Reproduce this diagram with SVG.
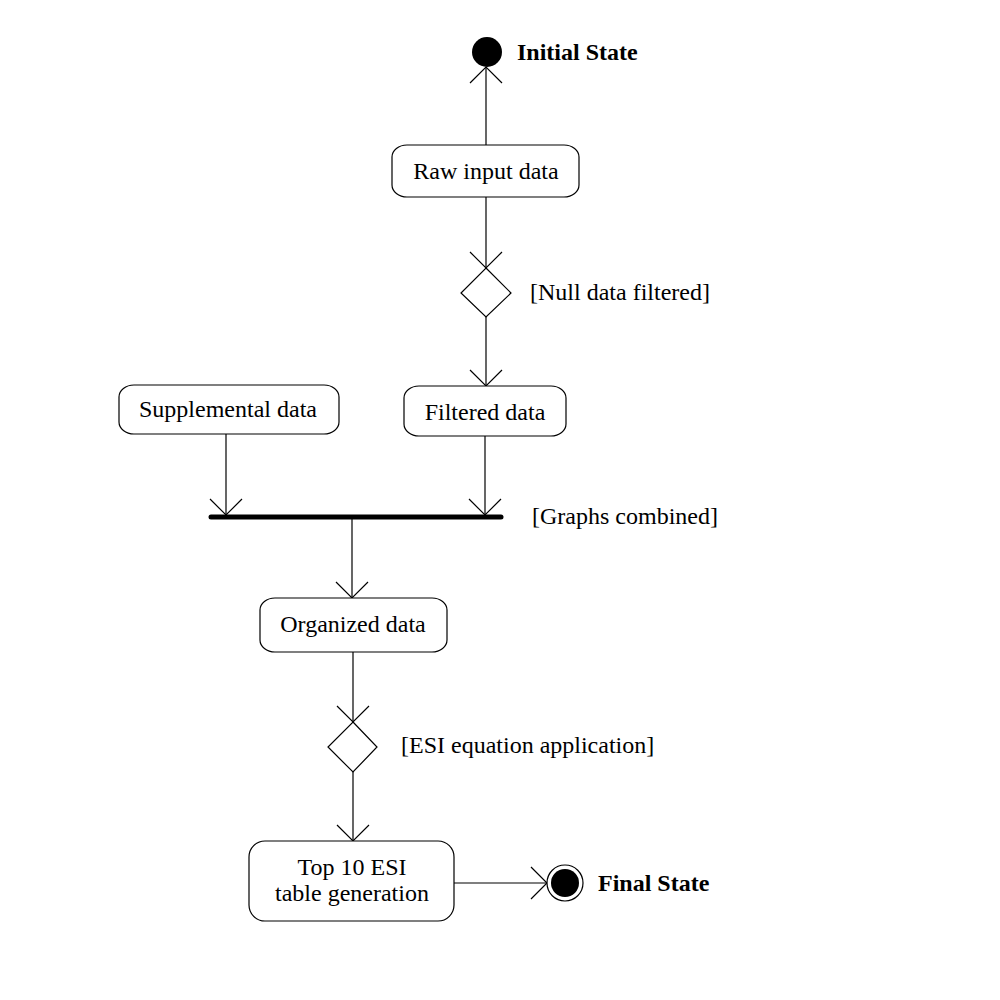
<svg xmlns="http://www.w3.org/2000/svg" width="1000" height="1000" viewBox="0 0 1000 1000">
<style>
.box{fill:#fff;stroke:#000;stroke-width:1.2}
.t{font-family:"Liberation Serif","Times New Roman",serif;font-size:24px;fill:#000}
.b{font-weight:bold}
.ln{stroke:#000;stroke-width:1.2;fill:none}
</style>
<defs>
<marker id="arr" markerWidth="40" markerHeight="40" refX="20" refY="20" orient="auto" markerUnits="userSpaceOnUse" viewBox="0 0 40 40">
<path d="M4,4 L20,20 L4,36" fill="none" stroke="#000" stroke-width="1.2"/>
</marker>
</defs>
<rect width="1000" height="1000" fill="#fff"/>
<g id="connectors">
<line class="ln" x1="486" y1="145" x2="486" y2="67" marker-end="url(#arr)"/>
<line class="ln" x1="486" y1="197" x2="486" y2="268" marker-end="url(#arr)"/>
<line class="ln" x1="486" y1="317" x2="486" y2="386" marker-end="url(#arr)"/>
<line class="ln" x1="226" y1="434" x2="226" y2="515" marker-end="url(#arr)"/>
<line class="ln" x1="485" y1="436" x2="485" y2="515" marker-end="url(#arr)"/>
<line class="ln" x1="352" y1="517" x2="352" y2="598" marker-end="url(#arr)"/>
<line class="ln" x1="353" y1="652" x2="353" y2="722" marker-end="url(#arr)"/>
<line class="ln" x1="353" y1="772" x2="353" y2="841" marker-end="url(#arr)"/>
<line class="ln" x1="454" y1="883" x2="547" y2="883" marker-end="url(#arr)"/>
</g>
<g id="initial">
<circle cx="487" cy="52" r="15" fill="#000"/>
<text class="t b" x="517" y="60">Initial State</text>
</g>
<g id="raw">
<rect class="box" x="392" y="145" width="187" height="52" rx="15" ry="12"/>
<text class="t" x="486" y="179" text-anchor="middle">Raw input data</text>
</g>
<g id="decision1">
<polygon class="box" points="486,268 511,293 486,317 461,293"/>
<text class="t" x="530" y="300">[Null data filtered]</text>
</g>
<g id="filtered">
<rect class="box" x="404" y="386" width="162" height="50" rx="15" ry="12"/>
<text class="t" x="485" y="420" text-anchor="middle">Filtered data</text>
</g>
<g id="supplemental">
<rect class="box" x="119" y="385" width="220" height="49" rx="15" ry="12"/>
<text class="t" x="228" y="417" text-anchor="middle">Supplemental data</text>
</g>
<g id="join">
<line x1="211" y1="517" x2="501" y2="517" stroke="#000" stroke-width="5" stroke-linecap="round"/>
<text class="t" x="532" y="524">[Graphs combined]</text>
</g>
<g id="organized">
<rect class="box" x="260" y="598" width="187" height="54" rx="15" ry="12"/>
<text class="t" x="353" y="632" text-anchor="middle">Organized data</text>
</g>
<g id="decision2">
<polygon class="box" points="353,722 377,747 353,772 328,747"/>
<text class="t" x="401" y="753">[ESI equation application]</text>
</g>
<g id="top10">
<rect class="box" x="249" y="841" width="205" height="80" rx="16" ry="16"/>
<text class="t" x="352" y="875" text-anchor="middle">Top 10 ESI</text>
<text class="t" x="352" y="901" text-anchor="middle">table generation</text>
</g>
<g id="final">
<circle cx="565" cy="883" r="18" fill="#fff" stroke="#000" stroke-width="1.2"/>
<circle cx="565" cy="883" r="14" fill="#000"/>
<text class="t b" x="598" y="891">Final State</text>
</g>
</svg>
